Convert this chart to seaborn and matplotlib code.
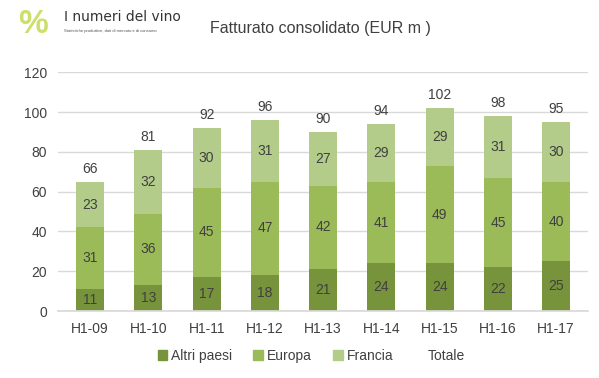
import numpy as np
import pandas as pd
import matplotlib
matplotlib.use("Agg")
import matplotlib.pyplot as plt
import seaborn as sns
from matplotlib.patches import Patch

periods = ["H1-09", "H1-10", "H1-11", "H1-12", "H1-13", "H1-14", "H1-15", "H1-16", "H1-17"]
altri_paesi = [11, 13, 17, 18, 21, 24, 24, 22, 25]
europa = [31, 36, 45, 47, 42, 41, 49, 45, 40]
francia = [23, 32, 30, 31, 27, 29, 29, 31, 30]
totale = [66, 81, 92, 96, 90, 94, 102, 98, 95]

c_altri = "#77933C"
c_europa = "#9BBB59"
c_francia = "#B3CC8A"

sns.set_theme(style="white")
plt.rcParams["font.family"] = ["Liberation Sans", "DejaVu Sans"]

df = pd.DataFrame({"period": periods, "altri": altri_paesi,
                   "europa": europa, "francia": francia, "totale": totale})
df["b1"] = df["altri"]
df["b2"] = df["altri"] + df["europa"]
df["b3"] = df["b2"] + df["francia"]

fig = plt.figure(figsize=(5.99, 3.78), dpi=100)
ax = fig.add_axes([0.097, 0.177, 0.885, 0.632])

# stacked bars: draw tallest first, shorter on top
for col, c in [("b3", c_francia), ("b2", c_europa), ("b1", c_altri)]:
    sns.barplot(data=df, x="period", y=col, color=c, width=0.48,
                saturation=1, linewidth=0, edgecolor="none", ax=ax)

txt = "#404040"
for i in range(len(periods)):
    ax.text(i, df["altri"][i] / 2, str(altri_paesi[i]), ha="center", va="center",
            fontsize=10, color=txt)
    ax.text(i, df["b1"][i] + europa[i] / 2, str(europa[i]), ha="center", va="center",
            fontsize=10, color=txt)
    ax.text(i, df["b2"][i] + francia[i] / 2, str(francia[i]), ha="center", va="center",
            fontsize=10, color=txt)
    ax.text(i, df["b3"][i] + 3, str(totale[i]), ha="center", va="bottom",
            fontsize=10, color=txt)

ax.set_ylim(0, 120)
ax.set_yticks(range(0, 121, 20))
ax.set_xlim(-0.55, len(periods) - 0.45)
ax.yaxis.grid(True, color="#D9D9D9", linewidth=1)
ax.set_axisbelow(True)
for s in ["top", "right", "left"]:
    ax.spines[s].set_visible(False)
ax.spines["bottom"].set_color("#D9D9D9")
ax.tick_params(axis="both", labelsize=10, colors=txt, length=0, pad=8)
ax.set_xlabel("")
ax.set_ylabel("")

fig.text(0.535, 0.925, "Fatturato consolidato (EUR m )", ha="center", va="center",
         fontsize=11.5, color="#404040")

handles = [Patch(color=c_altri), Patch(color=c_europa), Patch(color=c_francia),
           Patch(color="none")]
fig.legend(handles, ["Altri paesi", "Europa", "Francia", "Totale"],
           loc="center", bbox_to_anchor=(0.52, 0.058), ncol=4, frameon=False,
           fontsize=10, handlelength=0.7, handleheight=0.7, handletextpad=0.3,
           columnspacing=1.5, labelcolor=txt)

# logo
fig.text(0.055, 0.935, "%", fontsize=24, color="#C8DC5A", ha="center", va="center",
         fontweight="bold", alpha=0.9)
fig.text(0.107, 0.955, "I numeri del vino", fontsize=10, color="#333333",
         ha="left", va="center", family=["Liberation Sans Narrow", "DejaVu Sans"])
fig.text(0.107, 0.918, "Statistiche produttive, dati di mercato e di consumo",
         fontsize=3, color="#555555", ha="left", va="center")

fig.savefig("out.png", dpi=100)
